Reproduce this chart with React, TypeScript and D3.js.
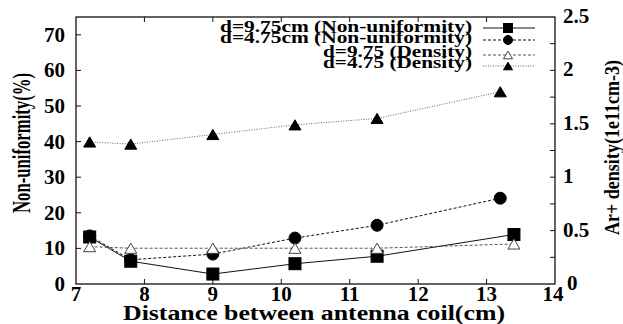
import React, { useEffect, useRef } from 'react';
import * as d3 from 'd3';

const xTicks = [7, 8, 9, 10, 11, 12, 13, 14];
const leftTicks = [0, 10, 20, 30, 40, 50, 60, 70];
const rightTicks = [0, 0.5, 1, 1.5, 2, 2.5];
const rightMinor = [0.25, 0.75, 1.25, 1.75, 2.25];

// non-uniformity (%), left axis
const nonUni975 = [[7.2, 13.2], [7.8, 6.4], [9.0, 2.8], [10.2, 5.7], [11.4, 7.8], [13.4, 13.9]];
const nonUni475 = [[7.2, 13.5], [7.8, 6.8], [9.0, 8.4], [10.2, 12.9], [11.4, 16.5], [13.2, 24.1]];
// Ar+ density (1e11 cm-3), right axis
const dens975 = [[7.2, 0.35], [7.8, 0.335], [9.0, 0.335], [10.2, 0.335], [11.4, 0.335], [13.4, 0.375]];
const dens475 = [[7.2, 1.33], [7.8, 1.31], [9.0, 1.40], [10.2, 1.49], [11.4, 1.55], [13.2, 1.80]];

const legendLabels = [
  'd=9.75cm (Non-uniformity)',
  'd=4.75cm (Non-uniformity)',
  'd=9.75 (Density)',
  'd=4.75 (Density)',
];
const legendWidths = [252, 252, 149, 149];

const FONT = 'Liberation Serif';

const Chart = () => {
  const ref = useRef(null);
  const width = 623;
  const height = 324;

  useEffect(() => {
    document.body.style.margin = '0';
    const root = d3.select(ref.current);
    root.selectAll('*').remove();

    const m = { left: 76, right: 555, top: 17, bottom: 284 };
    const x = d3.scaleLinear().domain([7, 14]).range([m.left, m.right]);
    const yL = d3.scaleLinear().domain([0, 75]).range([m.bottom, m.top]);
    const yR = d3.scaleLinear().domain([0, 2.5]).range([m.bottom, m.top]);

    const svg = root.append('svg')
      .attr('width', width)
      .attr('height', height)
      .style('display', 'block')
      .style('background', 'white');

    const txt = (sel) => sel.attr('font-family', FONT).attr('font-weight', 'bold').attr('fill', '#000');

    // frame
    svg.append('rect')
      .attr('x', m.left).attr('y', m.top)
      .attr('width', m.right - m.left).attr('height', m.bottom - m.top)
      .attr('fill', 'none').attr('stroke', '#111').attr('stroke-width', 1.3);

    const tk = 5;
    const ticks = svg.append('g').attr('stroke', '#111').attr('stroke-width', 1);
    xTicks.slice(1, -1).forEach(v => {
      ticks.append('line').attr('x1', x(v)).attr('x2', x(v)).attr('y1', m.bottom).attr('y2', m.bottom - tk);
      ticks.append('line').attr('x1', x(v)).attr('x2', x(v)).attr('y1', m.top).attr('y2', m.top + tk);
    });
    leftTicks.slice(1).forEach(v => {
      ticks.append('line').attr('x1', m.left).attr('x2', m.left + tk).attr('y1', yL(v)).attr('y2', yL(v));
    });
    rightTicks.slice(1, -1).concat(rightMinor).forEach(v => {
      ticks.append('line').attr('x1', m.right).attr('x2', m.right - tk).attr('y1', yR(v)).attr('y2', yR(v));
    });

    // tick labels
    svg.append('g').selectAll('text').data(xTicks).join('text')
      .call(txt)
      .attr('x', d => d === 14 ? x(d) - 2 : x(d)).attr('y', 301)
      .attr('text-anchor', 'middle').attr('font-size', 21)
      .text(d => d);
    svg.append('g').selectAll('text').data(leftTicks).join('text')
      .call(txt)
      .attr('x', 65).attr('y', d => yL(d) + 7)
      .attr('text-anchor', 'end').attr('font-size', 21)
      .text(d => d);
    svg.append('g').selectAll('text').data(rightTicks).join('text')
      .call(txt)
      .attr('x', d => d === 0 ? 567 : 563).attr('y', d => d === 0 ? 290 : yR(d) + 6)
      .attr('text-anchor', 'start').attr('font-size', 21)
      .text(d => d);

    // axis titles
    svg.append('text').call(txt)
      .attr('x', 123).attr('y', 320)
      .attr('font-size', 20)
      .attr('textLength', 382).attr('lengthAdjust', 'spacingAndGlyphs')
      .text('Distance between antenna coil(cm)');
    svg.append('text').call(txt)
      .attr('transform', 'translate(30,213) rotate(-90)')
      .attr('font-size', 25)
      .attr('textLength', 140).attr('lengthAdjust', 'spacingAndGlyphs')
      .text('Non-uniformity(%)');
    svg.append('text').call(txt)
      .attr('transform', 'translate(619,235) rotate(-90)')
      .attr('font-size', 22)
      .attr('textLength', 175).attr('lengthAdjust', 'spacingAndGlyphs')
      .text('Ar+ density(1e11cm-3)');

    const series = [
      { data: nonUni975, y: yL, dash: null, stroke: '#111', marker: 'square', fill: '#000' },
      { data: nonUni475, y: yL, dash: '3,2', stroke: '#111', marker: 'circle', fill: '#000' },
      { data: dens975, y: yR, dash: '3,2', stroke: '#555', marker: 'triangle', fill: 'white' },
      { data: dens475, y: yR, dash: '1,1.5', stroke: '#666', marker: 'triangle', fill: '#000' },
    ];

    const drawMarker = (g, type, cx, cy, s, fill) => {
      if (type === 'square') {
        g.append('rect').attr('x', cx - s / 2).attr('y', cy - s / 2).attr('width', s).attr('height', s)
          .attr('fill', fill).attr('stroke', '#000');
      } else if (type === 'circle') {
        g.append('circle').attr('cx', cx).attr('cy', cy).attr('r', s / 2).attr('fill', fill).attr('stroke', '#000');
      } else {
        const h = s * 0.85;
        g.append('path')
          .attr('d', `M${cx},${cy - h / 2}L${cx + s / 2},${cy + h / 2}L${cx - s / 2},${cy + h / 2}Z`)
          .attr('fill', fill).attr('stroke', fill === 'white' ? '#444' : '#000').attr('stroke-width', 1);
      }
    };

    const line = d3.line();
    series.forEach(s => {
      svg.append('path')
        .attr('d', line(s.data.map(d => [x(d[0]), s.y(d[1])])))
        .attr('fill', 'none').attr('stroke', s.stroke).attr('stroke-width', 1)
        .attr('stroke-dasharray', s.dash);
      const g = svg.append('g');
      s.data.forEach(d => drawMarker(g, s.marker, x(d[0]), s.y(d[1]), 12, s.fill));
    });

    // legend
    const legY = [28, 40, 55, 66];
    const legBase = [32, 43, 57, 68];
    const lg = svg.append('g');
    series.forEach((s, i) => {
      lg.append('text').call(txt)
        .attr('x', 472 - legendWidths[i]).attr('y', legBase[i])
        .attr('font-size', 16)
        .attr('textLength', legendWidths[i]).attr('lengthAdjust', 'spacingAndGlyphs')
        .text(legendLabels[i]);
      lg.append('line')
        .attr('x1', 483).attr('x2', 535).attr('y1', legY[i]).attr('y2', legY[i])
        .attr('stroke', s.stroke).attr('stroke-width', 1).attr('stroke-dasharray', s.dash);
      drawMarker(lg, s.marker, 508, legY[i], 9, s.fill);
    });
  }, []);

  return <div ref={ref}></div>;
};

export default function App() {
  return <Chart />;
}
